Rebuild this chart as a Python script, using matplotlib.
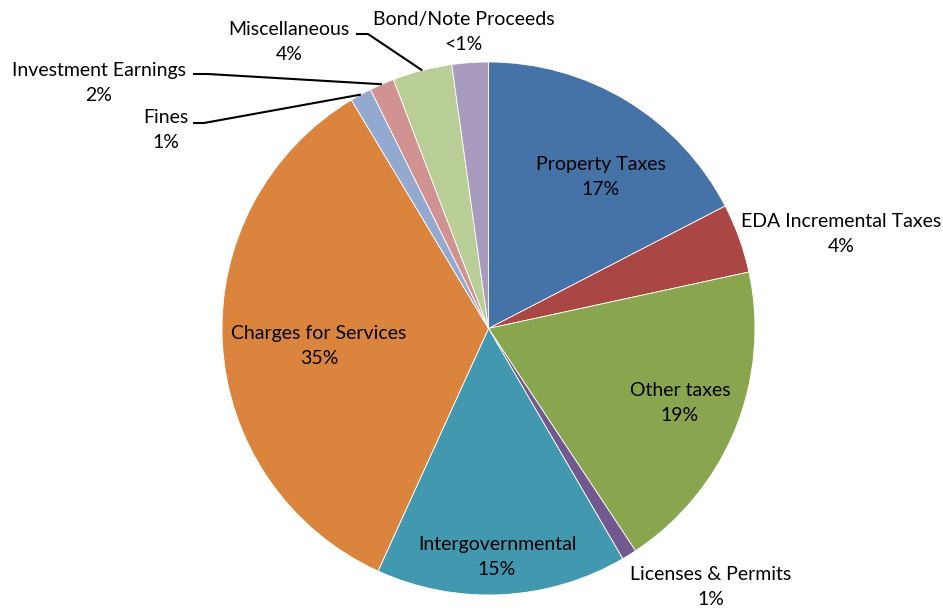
import numpy as np
import matplotlib
matplotlib.use('Agg')
import matplotlib.pyplot as plt

# ---- revenue shares (percent of total) ----
categories = ['Property Taxes', 'EDA Incremental Taxes', 'Other taxes',
              'Licenses & Permits', 'Intergovernmental', 'Charges for Services',
              'Fines', 'Investment Earnings', 'Miscellaneous', 'Bond/Note Proceeds']
shares = [17.4, 4.2, 19.1, 0.9, 15.2, 34.6, 1.3, 1.5, 3.6, 2.2]
pct_labels = ['17%', '4%', '19%', '1%', '15%', '35%', '1%', '2%', '4%', '<1%']
colors = ['#4572A7', '#AA4643', '#89A54E', '#71588F', '#4198AF',
          '#DB843D', '#93A9CF', '#D19392', '#B9CD96', '#A99BBD']

W, H = 943, 610
CX, CY, R = 488.5, 328.5, 266.5

# label centres in pixel space (x right, y down)
label_pos = {
    'Property Taxes':        (601, 177),
    'EDA Incremental Taxes': (841, 234),
    'Other taxes':           (680, 403),
    'Licenses & Permits':    (711, 587),
    'Intergovernmental':     (497, 557),
    'Charges for Services':  (319, 346),
    'Fines':                 (166, 130),
    'Investment Earnings':   (99, 83),
    'Miscellaneous':         (289, 42),
    'Bond/Note Proceeds':    (464, 32),
}
# leader lines: (start x, start y, end of short horizontal stub)
leaders = {
    'Fines':               (193, 123, 204),
    'Investment Earnings': (193, 74, 208),
    'Miscellaneous':       (356, 34, 368),
}

fig = plt.figure(figsize=(W / 100, H / 100), dpi=100)
ax = fig.add_axes([0, 0, 1, 1])
ax.axis('off')

wedges, _ = ax.pie(shares, colors=colors, startangle=90, counterclock=False,
                   center=(CX, H - CY), radius=R,
                   wedgeprops=dict(edgecolor='white', linewidth=0.6))
ax.set_xlim(0, W)
ax.set_ylim(0, H)
ax.set_aspect('equal')

font = dict(family=['Lato', 'DejaVu Sans'], fontsize=14, color='black')
for name, pct, w in zip(categories, pct_labels, wedges):
    lx, ly = label_pos[name]
    ax.text(lx, H - ly, f'{name}\n{pct}', ha='center', va='center',
            multialignment='center', linespacing=1.56, **font)
    if name in leaders:
        sx, sy, hx = leaders[name]
        mid = np.deg2rad((w.theta1 + w.theta2) / 2)
        ex = CX + R * np.cos(mid)
        ey = (H - CY) + R * np.sin(mid)
        ax.plot([sx, hx, ex], [H - sy, H - sy, ey], color='black', lw=1.5,
                solid_capstyle='butt')

fig.savefig('out.png', dpi=100)
